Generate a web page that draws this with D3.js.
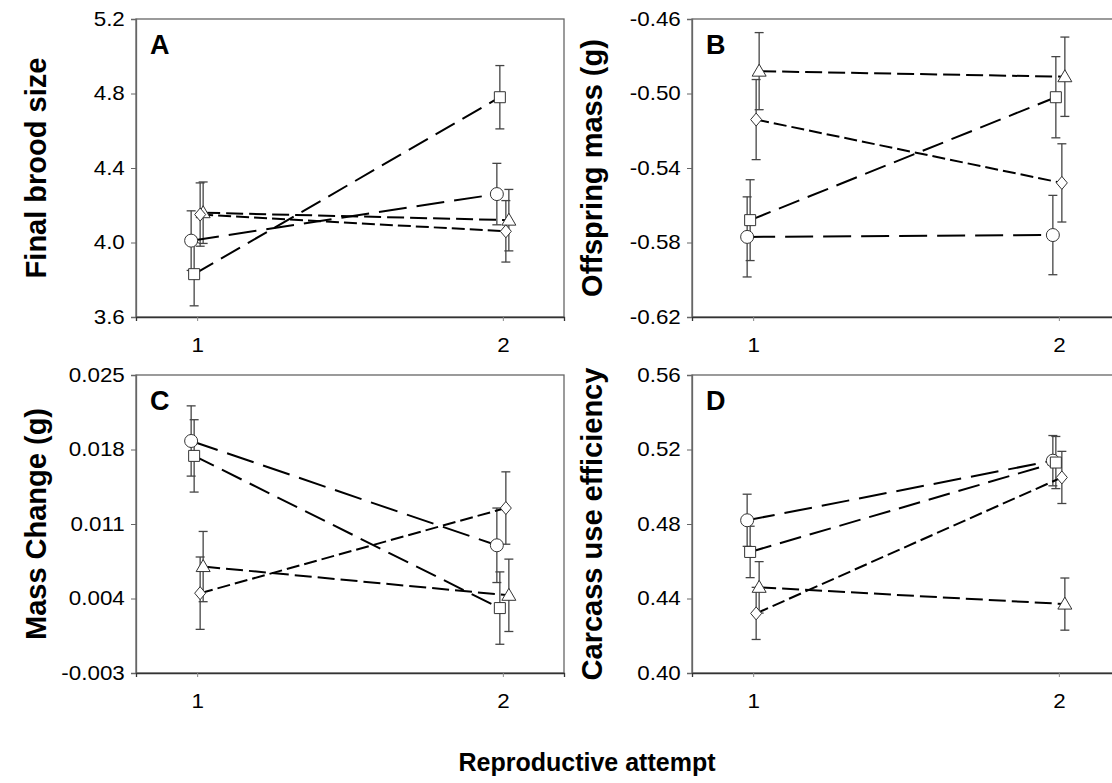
<!DOCTYPE html>
<html>
<head>
<meta charset="utf-8">
<script src="https://cdn.jsdelivr.net/npm/d3@7"></script>
<style>
    body { margin: 0; background: #fff; }
    text { font-family: Arial, "Liberation Sans", sans-serif; fill: #000; }
</style>
</head>
<body>
<div id="chart"></div>
<script>
// Categories on the x axis
const attempts = [1, 2];
// Series order used in every panel: circle, square, triangle, diamond
const seriesShapes = ["circle", "square", "triangle", "diamond"];

// Panel A - final brood size (mean and SE at attempt 1 and 2)
const broodMean = [[4.01, 4.26], [3.83, 4.78], [4.16, 4.12], [4.15, 4.06]];
const broodSE = [[0.16, 0.165], [0.17, 0.17], [0.165, 0.165], [0.17, 0.165]];
const broodTicks = [3.6, 4.0, 4.4, 4.8, 5.2];

// Panel B - offspring mass (g)
const offspringMean = [[-0.577, -0.576], [-0.568, -0.502], [-0.488, -0.491], [-0.514, -0.548]];
const offspringSE = [[0.0215, 0.0213], [0.0217, 0.0218], [0.0207, 0.0213], [0.0215, 0.021]];
const offspringTicks = [-0.62, -0.58, -0.54, -0.50, -0.46];

// Panel C - mass change (g)
const massMean = [[0.0188, 0.0090], [0.0174, 0.0031], [0.0070, 0.0043], [0.0045, 0.0125]];
const massSE = [[0.0033, 0.0035], [0.0034, 0.0034], [0.0033, 0.0034], [0.0034, 0.0034]];
const massTicks = [-0.003, 0.004, 0.011, 0.018, 0.025];

// Panel D - carcass use efficiency
const carcassMean = [[0.482, 0.514], [0.465, 0.513], [0.446, 0.437], [0.432, 0.505]];
const carcassSE = [[0.014, 0.0135], [0.0138, 0.014], [0.0138, 0.014], [0.014, 0.014]];
const carcassTicks = [0.40, 0.44, 0.48, 0.52, 0.56];

// Layout
const W = 1112, H = 783;
const plotW = 428, plotH = 298;

// small horizontal offsets so the series don't sit on top of each other
const jitter = { circle: -6, square: -3, triangle: 6, diamond: 3 };
const dashes = { circle: "28,10", square: "22,9", triangle: "17,6", diamond: "13,5" };

// plain hyphen for negatives, like the original
const fmtWith = spec => v => d3.format(spec)(v).replace("\u2212", "-");

const panels = [
    { letter: "A", title: "Final brood size", means: broodMean, se: broodSE, ticks: broodTicks, fmt: fmtWith(".1f"), left: 136, top: 19 },
    { letter: "B", title: "Offspring mass (g)", means: offspringMean, se: offspringSE, ticks: offspringTicks, fmt: fmtWith(".2f"), left: 692, top: 19 },
    { letter: "C", title: "Mass Change (g)", means: massMean, se: massSE, ticks: massTicks, fmt: fmtWith(".3f"), left: 136, top: 375 },
    { letter: "D", title: "Carcass use efficiency", means: carcassMean, se: carcassSE, ticks: carcassTicks, fmt: fmtWith(".2f"), left: 692, top: 375 }
];

const svg = d3.select("#chart")
    .append("svg")
    .attr("width", W)
    .attr("height", H);

function markerPath(shape) {
    if (shape === "triangle") return "M0,-7L7,5L-7,5Z";
    if (shape === "diamond") return "M0,-6.5L5.5,0L0,6.5L-5.5,0Z";
    if (shape === "square") return "M-5.5,-5.5H5.5V5.5H-5.5Z";
    return null;
}

panels.forEach(p => {
    const g = svg.append("g").attr("transform", `translate(${p.left},${p.top})`);

    const x = d3.scaleLinear().domain([0.8, 2.2]).range([0, plotW]);
    const y = d3.scaleLinear().domain(d3.extent(p.ticks)).range([plotH, 0]);

    // frame
    g.append("rect")
        .attr("width", plotW)
        .attr("height", plotH)
        .attr("fill", "none")
        .attr("stroke", "#666")
        .attr("stroke-width", 1.3);

    // y axis (labels slightly widened, the original figure is a bit stretched)
    const yAxis = g.append("g")
        .call(d3.axisLeft(y).tickValues(p.ticks).tickFormat(p.fmt).tickSize(5).tickPadding(5));
    yAxis.select(".domain").attr("stroke", "#666").attr("stroke-width", 1.3);
    yAxis.selectAll(".tick line").attr("stroke", "#666");
    yAxis.selectAll("text")
        .style("font-size", "20px")
        .attr("transform", "scale(1.12,1)")
        .attr("fill", "#000");

    // x axis
    const xAxis = g.append("g")
        .attr("transform", `translate(0,${plotH})`)
        .call(d3.axisBottom(x).tickValues(attempts).tickFormat(d3.format("d")).tickSize(4).tickPadding(17));
    xAxis.select(".domain").attr("stroke", "#333").attr("stroke-width", 1.3);
    xAxis.selectAll(".tick line").attr("stroke", "#888");
    xAxis.selectAll("text")
        .style("font-size", "20px")
        .attr("transform", "scale(1.12,1)")
        .attr("fill", "#000");

    // panel letter
    g.append("text")
        .attr("x", 14)
        .attr("y", 35)
        .style("font-size", "27px")
        .style("font-weight", "bold")
        .text(p.letter);

    // y axis title
    g.append("text")
        .attr("transform", `translate(${-90},${plotH / 2}) rotate(-90)`)
        .attr("text-anchor", "middle")
        .style("font-size", "29px")
        .style("font-weight", "bold")
        .text(p.title);

    const series = seriesShapes.map((shape, i) => ({
        shape: shape,
        pts: attempts.map((a, j) => ({
            px: x(a) + jitter[shape],
            m: p.means[i][j],
            se: p.se[i][j]
        }))
    }));

    // error bars
    series.forEach(s => {
        s.pts.forEach(d => {
            const eb = g.append("g").attr("stroke", "#444").attr("stroke-width", 1.3);
            eb.append("line")
                .attr("x1", d.px).attr("x2", d.px)
                .attr("y1", y(d.m - d.se)).attr("y2", y(d.m + d.se));
            [d.m - d.se, d.m + d.se].forEach(v => {
                eb.append("line")
                    .attr("x1", d.px - 4.5).attr("x2", d.px + 4.5)
                    .attr("y1", y(v)).attr("y2", y(v));
            });
        });
    });

    // dashed lines between attempts
    const line = d3.line().x(d => d.px).y(d => y(d.m));
    series.forEach(s => {
        g.append("path")
            .datum(s.pts)
            .attr("d", line)
            .attr("fill", "none")
            .attr("stroke", "#000")
            .attr("stroke-width", 2)
            .attr("stroke-dasharray", dashes[s.shape]);
    });

    // markers
    series.forEach(s => {
        s.pts.forEach(d => {
            if (s.shape === "circle") {
                g.append("circle")
                    .attr("cx", d.px).attr("cy", y(d.m)).attr("r", 6.5)
                    .attr("fill", "#fff").attr("stroke", "#333").attr("stroke-width", 1);
            } else {
                g.append("path")
                    .attr("d", markerPath(s.shape))
                    .attr("transform", `translate(${d.px},${y(d.m)})`)
                    .attr("fill", "#fff").attr("stroke", "#333").attr("stroke-width", 1);
            }
        });
    });
});

// shared x axis title
svg.append("text")
    .attr("x", 587)
    .attr("y", 771)
    .attr("text-anchor", "middle")
    .style("font-size", "25px")
    .style("font-weight", "bold")
    .text("Reproductive attempt");
</script>
</body>
</html>
